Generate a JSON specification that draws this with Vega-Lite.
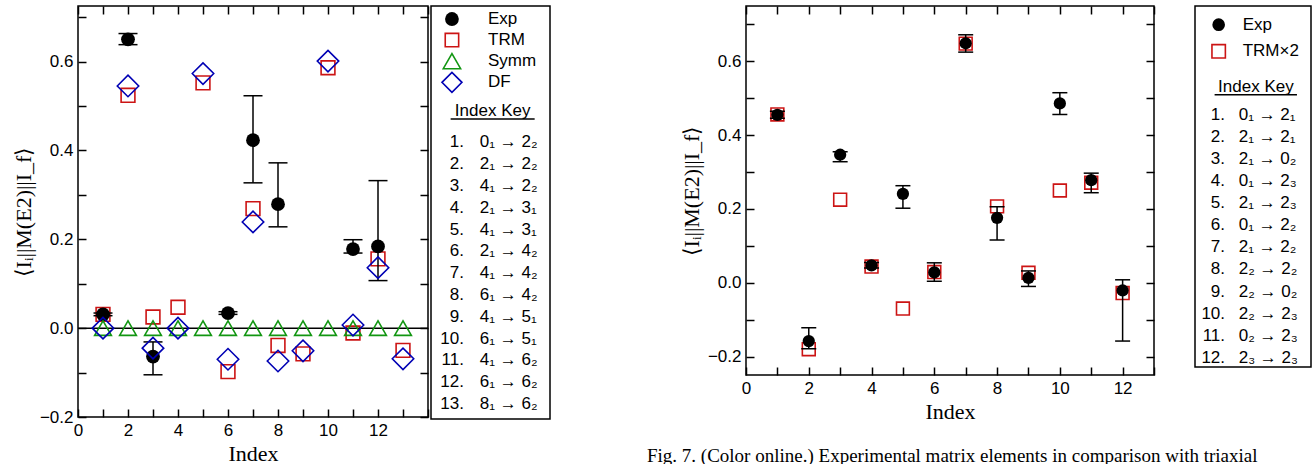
{
  "$schema": "https://vega.github.io/schema/vega-lite/v6.json",
  "padding": {"left": 11, "top": 4, "right": 0, "bottom": 0},
  "spacing": 95,
  "hconcat": [
    {
      "spacing": 3,
      "bounds": "flush",
      "hconcat": [
        {
          "width": 350,
          "height": 411,
          "data": {"values": [
            {"idx": 1, "exp": 0.031, "lo": 0.028, "hi": 0.034, "trm": 0.031, "symm": 0, "df": 0},
            {"idx": 2, "exp": 0.650, "lo": 0.638, "hi": 0.663, "trm": 0.524, "symm": 0, "df": 0.545},
            {"idx": 3, "exp": -0.064, "lo": -0.105, "hi": -0.031, "trm": 0.025, "symm": 0, "df": -0.045},
            {"idx": 4, "exp": null, "lo": null, "hi": null, "trm": 0.047, "symm": 0, "df": 0},
            {"idx": 5, "exp": null, "lo": null, "hi": null, "trm": 0.552, "symm": 0, "df": 0.573},
            {"idx": 6, "exp": 0.034, "lo": 0.031, "hi": 0.037, "trm": -0.098, "symm": 0, "df": -0.070},
            {"idx": 7, "exp": 0.423, "lo": 0.327, "hi": 0.523, "trm": 0.269, "symm": 0, "df": 0.239},
            {"idx": 8, "exp": 0.279, "lo": 0.228, "hi": 0.372, "trm": -0.039, "symm": 0, "df": -0.074},
            {"idx": 9, "exp": null, "lo": null, "hi": null, "trm": -0.058, "symm": 0, "df": -0.051},
            {"idx": 10, "exp": null, "lo": null, "hi": null, "trm": 0.586, "symm": 0, "df": 0.601},
            {"idx": 11, "exp": 0.178, "lo": 0.169, "hi": 0.199, "trm": -0.011, "symm": 0, "df": 0.007},
            {"idx": 12, "exp": 0.184, "lo": 0.107, "hi": 0.332, "trm": 0.156, "symm": 0, "df": 0.136},
            {"idx": 13, "exp": null, "lo": null, "hi": null, "trm": -0.050, "symm": 0, "df": -0.069}
          ]},
          "resolve": {"axis": {"x": "independent", "y": "independent"}},
          "layer": [
            {
              "mark": {"type": "point", "shape": "square", "filled": false, "stroke": "#cc1414", "strokeWidth": 1.6, "size": 190, "opacity": 1},
              "encoding": {
                "x": {"field": "idx", "type": "quantitative", "scale": {"domain": [0, 14], "nice": false, "zero": false},
                  "axis": {"values": [0,1,2,3,4,5,6,7,8,9,10,11,12,13,14], "format": "d", "labelExpr": "datum.value % 2 === 0 && datum.value < 14 ? datum.label : ''", "title": "Index", "titlePadding": 5}},
                "y": {"field": "trm", "type": "quantitative", "scale": {"domain": [-0.2, 0.725], "nice": false, "zero": false},
                  "axis": {"values": [-0.2,-0.1,0,0.1,0.2,0.3,0.4,0.5,0.6,0.7], "format": ".1f", "labelExpr": "abs(round(datum.value*10)) % 2 === 0 ? datum.label : ''", "title": "⟨Iᵢ||M(E2)||I_f⟩", "titlePadding": 4}}
              }
            },
            {
              "mark": {"type": "rule", "color": "black", "strokeWidth": 1.5},
              "encoding": {
                "x": {"field": "idx", "type": "quantitative", "axis": {"orient": "top", "values": [0,1,2,3,4,5,6,7,8,9,10,11,12,13,14], "labels": false, "title": null}},
                "y": {"field": "lo", "type": "quantitative", "axis": {"orient": "right", "values": [-0.2,-0.1,0,0.1,0.2,0.3,0.4,0.5,0.6,0.7], "labels": false, "title": null}},
                "y2": {"field": "hi"}
              }
            },
            {
              "mark": {"type": "tick", "orient": "horizontal", "size": 19, "thickness": 1.5, "color": "black", "opacity": 1},
              "encoding": {
                "x": {"field": "idx", "type": "quantitative", "axis": null},
                "y": {"field": "lo", "type": "quantitative", "axis": null}
              }
            },
            {
              "mark": {"type": "tick", "orient": "horizontal", "size": 19, "thickness": 1.5, "color": "black", "opacity": 1},
              "encoding": {
                "x": {"field": "idx", "type": "quantitative", "axis": null},
                "y": {"field": "hi", "type": "quantitative", "axis": null}
              }
            },
            {
              "data": {"values": [{"level": 0}]},
              "mark": {"type": "rule", "color": "black", "strokeWidth": 1.5},
              "encoding": {
                "y": {"field": "level", "type": "quantitative", "axis": null}
              }
            },
            {
              "mark": {"type": "point", "shape": "circle", "filled": true, "color": "black", "size": 190, "opacity": 1},
              "encoding": {
                "x": {"field": "idx", "type": "quantitative", "axis": null},
                "y": {"field": "exp", "type": "quantitative", "axis": null}
              }
            },
            {
              "mark": {"type": "point", "shape": "triangle-up", "filled": false, "stroke": "#129612", "strokeWidth": 1.6, "size": 280, "opacity": 1},
              "encoding": {
                "x": {"field": "idx", "type": "quantitative", "axis": null},
                "y": {"field": "symm", "type": "quantitative", "axis": null}
              }
            },
            {
              "mark": {"type": "point", "shape": "diamond", "filled": false, "stroke": "#0000b4", "strokeWidth": 1.6, "size": 460, "opacity": 1},
              "encoding": {
                "x": {"field": "idx", "type": "quantitative", "axis": null},
                "y": {"field": "df", "type": "quantitative", "axis": null}
              }
            }
          ]
        },
        {
          "width": 119,
          "height": 413,
          "resolve": {"scale": {"y": "independent"}},
          "layer": [
            {
              "data": {"values": [
                {"series": "Exp", "order": 1},
                {"series": "TRM", "order": 2},
                {"series": "Symm", "order": 3},
                {"series": "DF", "order": 4}
              ]},
              "layer": [
                {
                  "transform": [{"filter": "datum.series === 'Exp'"}],
                  "mark": {"type": "point", "shape": "circle", "filled": true, "color": "black", "size": 190, "opacity": 1},
                  "encoding": {
                    "x": {"datum": 0.176, "type": "quantitative", "scale": {"domain": [0, 1]}, "axis": null},
                    "y": {"field": "order", "type": "quantitative", "scale": {"domain": [0.384, 19.95], "reverse": true, "nice": false, "zero": false}, "axis": null}
                  }
                },
                {
                  "transform": [{"filter": "datum.series === 'TRM'"}],
                  "mark": {"type": "point", "shape": "square", "filled": false, "stroke": "#cc1414", "strokeWidth": 1.6, "size": 180, "opacity": 1},
                  "encoding": {
                    "x": {"datum": 0.176, "type": "quantitative", "axis": null},
                    "y": {"field": "order", "type": "quantitative", "axis": null}
                  }
                },
                {
                  "transform": [{"filter": "datum.series === 'Symm'"}],
                  "mark": {"type": "point", "shape": "triangle-up", "filled": false, "stroke": "#129612", "strokeWidth": 1.6, "size": 300, "opacity": 1},
                  "encoding": {
                    "x": {"datum": 0.176, "type": "quantitative", "axis": null},
                    "y": {"field": "order", "type": "quantitative", "axis": null}
                  }
                },
                {
                  "transform": [{"filter": "datum.series === 'DF'"}],
                  "mark": {"type": "point", "shape": "diamond", "filled": false, "stroke": "#0000b4", "strokeWidth": 1.6, "size": 400, "opacity": 1},
                  "encoding": {
                    "x": {"datum": 0.176, "type": "quantitative", "axis": null},
                    "y": {"field": "order", "type": "quantitative", "axis": null}
                  }
                },
                {
                  "mark": {"type": "text", "align": "left", "baseline": "middle", "font": "Liberation Sans", "fontSize": 17, "color": "black"},
                  "encoding": {
                    "x": {"datum": 0.479, "type": "quantitative", "axis": null},
                    "y": {"field": "order", "type": "quantitative", "axis": null},
                    "text": {"field": "series"}
                  }
                }
              ]
            },
            {
              "data": {"values": [
                {"idx": 1, "n": "1.", "t": "0₁ → 2₂"},
                {"idx": 2, "n": "2.", "t": "2₁ → 2₂"},
                {"idx": 3, "n": "3.", "t": "4₁ → 2₂"},
                {"idx": 4, "n": "4.", "t": "2₁ → 3₁"},
                {"idx": 5, "n": "5.", "t": "4₁ → 3₁"},
                {"idx": 6, "n": "6.", "t": "2₁ → 4₂"},
                {"idx": 7, "n": "7.", "t": "4₁ → 4₂"},
                {"idx": 8, "n": "8.", "t": "6₁ → 4₂"},
                {"idx": 9, "n": "9.", "t": "4₁ → 5₁"},
                {"idx": 10, "n": "10.", "t": "6₁ → 5₁"},
                {"idx": 11, "n": "11.", "t": "4₁ → 6₂"},
                {"idx": 12, "n": "12.", "t": "6₁ → 6₂"},
                {"idx": 13, "n": "13.", "t": "8₁ → 6₂"}
              ]},
              "layer": [
                {
                  "mark": {"type": "text", "align": "right", "baseline": "middle", "font": "Liberation Sans", "fontSize": 17, "color": "black"},
                  "encoding": {
                    "x": {"datum": 0.277, "type": "quantitative", "axis": null},
                    "y": {"field": "idx", "type": "quantitative", "scale": {"domain": [-5.252, 13.69], "reverse": true, "nice": false, "zero": false}, "axis": null},
                    "text": {"field": "n"}
                  }
                },
                {
                  "mark": {"type": "text", "align": "left", "baseline": "middle", "font": "Liberation Sans", "fontSize": 17, "color": "black"},
                  "encoding": {
                    "x": {"datum": 0.41, "type": "quantitative", "axis": null},
                    "y": {"field": "idx", "type": "quantitative", "axis": null},
                    "text": {"field": "t"}
                  }
                },
                {
                  "data": {"values": [{"heading": "Index Key"}]},
                  "mark": {"type": "text", "align": "center", "baseline": "middle", "font": "Liberation Sans", "fontSize": 17, "color": "black"},
                  "encoding": {
                    "x": {"datum": 0.518, "type": "quantitative", "axis": null},
                    "y": {"datum": -0.422, "type": "quantitative", "axis": null},
                    "text": {"field": "heading"}
                  }
                },
                {
                  "data": {"values": [{"heading": "Index Key"}]},
                  "mark": {"type": "rule", "color": "black", "strokeWidth": 1.5},
                  "encoding": {
                    "x": {"datum": 0.165, "type": "quantitative", "axis": null},
                    "x2": {"datum": 0.871},
                    "y": {"datum": -0.069, "type": "quantitative", "axis": null}
                  }
                }
              ]
            }
          ]
        }
      ]
    },
    {
      "spacing": 41,
      "bounds": "flush",
      "hconcat": [
        {
          "width": 408,
          "height": 369,
          "title": {"text": "Fig. 7. (Color online.) Experimental matrix elements in comparison with triaxial", "orient": "bottom", "anchor": "start", "frame": "group", "dx": -99, "offset": 25, "font": "Liberation Serif", "fontSize": 19, "fontWeight": "normal", "color": "black"},
          "data": {"values": [
            {"idx": 1, "exp": 0.455, "lo": 0.446, "hi": 0.465, "trm": 0.456},
            {"idx": 2, "exp": -0.158, "lo": -0.179, "hi": -0.122, "trm": -0.180},
            {"idx": 3, "exp": 0.347, "lo": 0.328, "hi": 0.355, "trm": 0.225},
            {"idx": 4, "exp": 0.047, "lo": 0.040, "hi": 0.055, "trm": 0.044},
            {"idx": 5, "exp": 0.241, "lo": 0.202, "hi": 0.263, "trm": -0.070},
            {"idx": 6, "exp": 0.028, "lo": 0.004, "hi": 0.054, "trm": 0.029},
            {"idx": 7, "exp": 0.649, "lo": 0.625, "hi": 0.672, "trm": 0.648},
            {"idx": 8, "exp": 0.176, "lo": 0.116, "hi": 0.206, "trm": 0.207},
            {"idx": 9, "exp": 0.013, "lo": -0.010, "hi": 0.032, "trm": 0.027},
            {"idx": 10, "exp": 0.486, "lo": 0.456, "hi": 0.515, "trm": 0.250},
            {"idx": 11, "exp": 0.278, "lo": 0.244, "hi": 0.297, "trm": 0.271},
            {"idx": 12, "exp": -0.021, "lo": -0.158, "hi": 0.008, "trm": -0.028}
          ]},
          "resolve": {"axis": {"x": "independent", "y": "independent"}},
          "layer": [
            {
              "mark": {"type": "point", "shape": "square", "filled": false, "stroke": "#cc1414", "strokeWidth": 1.6, "size": 165, "opacity": 1},
              "encoding": {
                "x": {"field": "idx", "type": "quantitative", "scale": {"domain": [0, 13], "nice": false, "zero": false},
                  "axis": {"values": [0,1,2,3,4,5,6,7,8,9,10,11,12,13], "format": "d", "labelExpr": "datum.value % 2 === 0 && datum.value < 13 ? datum.label : ''", "title": "Index", "titlePadding": 5}},
                "y": {"field": "trm", "type": "quantitative", "scale": {"domain": [-0.25, 0.75], "nice": false, "zero": false},
                  "axis": {"values": [-0.2,-0.1,0,0.1,0.2,0.3,0.4,0.5,0.6,0.7], "format": ".1f", "labelExpr": "abs(round(datum.value*10)) % 2 === 0 ? datum.label : ''", "title": "⟨Iᵢ||M(E2)||I_f⟩", "titlePadding": 4}}
              }
            },
            {
              "mark": {"type": "rule", "color": "black", "strokeWidth": 1.5},
              "encoding": {
                "x": {"field": "idx", "type": "quantitative", "axis": {"orient": "top", "values": [0,1,2,3,4,5,6,7,8,9,10,11,12,13], "labels": false, "title": null}},
                "y": {"field": "lo", "type": "quantitative", "axis": {"orient": "right", "values": [-0.2,-0.1,0,0.1,0.2,0.3,0.4,0.5,0.6,0.7], "labels": false, "title": null}},
                "y2": {"field": "hi"}
              }
            },
            {
              "mark": {"type": "tick", "orient": "horizontal", "size": 15, "thickness": 1.5, "color": "black", "opacity": 1},
              "encoding": {
                "x": {"field": "idx", "type": "quantitative", "axis": null},
                "y": {"field": "lo", "type": "quantitative", "axis": null}
              }
            },
            {
              "mark": {"type": "tick", "orient": "horizontal", "size": 15, "thickness": 1.5, "color": "black", "opacity": 1},
              "encoding": {
                "x": {"field": "idx", "type": "quantitative", "axis": null},
                "y": {"field": "hi", "type": "quantitative", "axis": null}
              }
            },
            {
              "mark": {"type": "point", "shape": "circle", "filled": true, "color": "black", "size": 150, "opacity": 1},
              "encoding": {
                "x": {"field": "idx", "type": "quantitative", "axis": null},
                "y": {"field": "exp", "type": "quantitative", "axis": null}
              }
            }
          ]
        },
        {
          "width": 116,
          "height": 361,
          "resolve": {"scale": {"y": "independent"}},
          "layer": [
            {
              "data": {"values": [
                {"series": "Exp", "order": 1},
                {"series": "TRM×2", "order": 2}
              ]},
              "layer": [
                {
                  "transform": [{"filter": "datum.series === 'Exp'"}],
                  "mark": {"type": "point", "shape": "circle", "filled": true, "color": "black", "size": 160, "opacity": 1},
                  "encoding": {
                    "x": {"datum": 0.204, "type": "quantitative", "scale": {"domain": [0, 1]}, "axis": null},
                    "y": {"field": "order", "type": "quantitative", "scale": {"domain": [0.297, 13.87], "reverse": true, "nice": false, "zero": false}, "axis": null}
                  }
                },
                {
                  "transform": [{"filter": "datum.series === 'TRM×2'"}],
                  "mark": {"type": "point", "shape": "square", "filled": false, "stroke": "#cc1414", "strokeWidth": 1.6, "size": 180, "opacity": 1},
                  "encoding": {
                    "x": {"datum": 0.204, "type": "quantitative", "axis": null},
                    "y": {"field": "order", "type": "quantitative", "axis": null}
                  }
                },
                {
                  "mark": {"type": "text", "align": "left", "baseline": "middle", "font": "Liberation Sans", "fontSize": 17, "color": "black"},
                  "encoding": {
                    "x": {"datum": 0.411, "type": "quantitative", "axis": null},
                    "y": {"field": "order", "type": "quantitative", "axis": null},
                    "text": {"field": "series"}
                  }
                }
              ]
            },
            {
              "data": {"values": [
                {"idx": 1, "n": "1.", "t": "0₁ → 2₁"},
                {"idx": 2, "n": "2.", "t": "2₁ → 2₁"},
                {"idx": 3, "n": "3.", "t": "2₁ → 0₂"},
                {"idx": 4, "n": "4.", "t": "0₁ → 2₃"},
                {"idx": 5, "n": "5.", "t": "2₁ → 2₃"},
                {"idx": 6, "n": "6.", "t": "0₁ → 2₂"},
                {"idx": 7, "n": "7.", "t": "2₁ → 2₂"},
                {"idx": 8, "n": "8.", "t": "2₂ → 2₂"},
                {"idx": 9, "n": "9.", "t": "2₂ → 0₂"},
                {"idx": 10, "n": "10.", "t": "2₂ → 2₃"},
                {"idx": 11, "n": "11.", "t": "0₂ → 2₃"},
                {"idx": 12, "n": "12.", "t": "2₃ → 2₃"}
              ]},
              "layer": [
                {
                  "mark": {"type": "text", "align": "right", "baseline": "middle", "font": "Liberation Sans", "fontSize": 17, "color": "black"},
                  "encoding": {
                    "x": {"datum": 0.259, "type": "quantitative", "axis": null},
                    "y": {"field": "idx", "type": "quantitative", "scale": {"domain": [-3.914, 12.41], "reverse": true, "nice": false, "zero": false}, "axis": null},
                    "text": {"field": "n"}
                  }
                },
                {
                  "mark": {"type": "text", "align": "left", "baseline": "middle", "font": "Liberation Sans", "fontSize": 17, "color": "black"},
                  "encoding": {
                    "x": {"datum": 0.377, "type": "quantitative", "axis": null},
                    "y": {"field": "idx", "type": "quantitative", "axis": null},
                    "text": {"field": "t"}
                  }
                },
                {
                  "data": {"values": [{"heading": "Index Key"}]},
                  "mark": {"type": "text", "align": "center", "baseline": "middle", "font": "Liberation Sans", "fontSize": 17, "color": "black"},
                  "encoding": {
                    "x": {"datum": 0.525, "type": "quantitative", "axis": null},
                    "y": {"datum": -0.239, "type": "quantitative", "axis": null},
                    "text": {"field": "heading"}
                  }
                },
                {
                  "data": {"values": [{"heading": "Index Key"}]},
                  "mark": {"type": "rule", "color": "black", "strokeWidth": 1.5},
                  "encoding": {
                    "x": {"datum": 0.169, "type": "quantitative", "axis": null},
                    "x2": {"datum": 0.879},
                    "y": {"datum": 0.096, "type": "quantitative", "axis": null}
                  }
                }
              ]
            }
          ]
        }
      ]
    }
  ],
  "config": {
    "view": {"stroke": "black", "strokeWidth": 1.5},
    "axis": {
      "domain": false,
      "grid": false,
      "ticks": true,
      "tickColor": "black",
      "tickSize": -8,
      "tickWidth": 1.5,
      "labelFont": "Liberation Sans",
      "labelFontSize": 17,
      "labelColor": "black",
      "labelPadding": 13,
      "labelFlush": false,
      "labelOverlap": false,
      "titleFont": "Liberation Serif",
      "titleFontSize": 22,
      "titleFontWeight": "normal",
      "titleColor": "black"
    }
  }
}
